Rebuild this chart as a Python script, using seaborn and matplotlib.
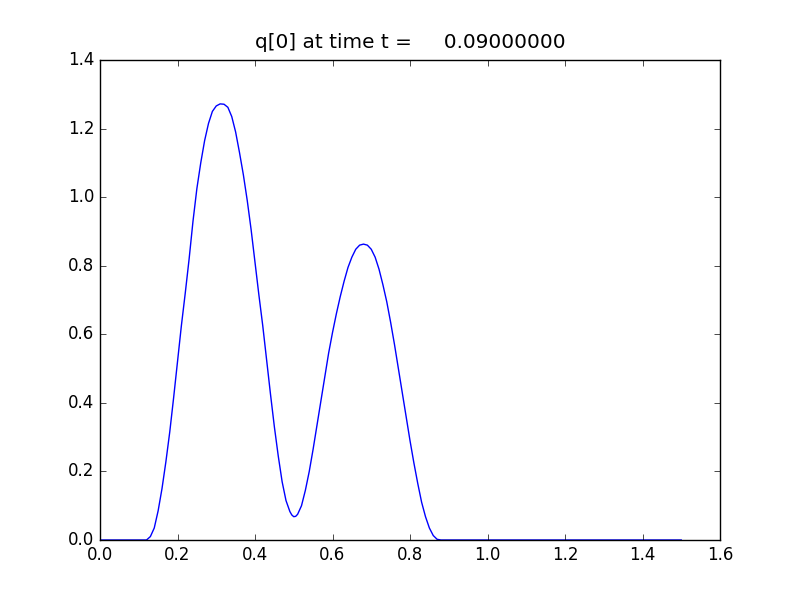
import matplotlib
matplotlib.use('Agg')
import matplotlib.pyplot as plt
import seaborn as sns

x_vals = [0.0, 0.12, 0.13, 0.14, 0.15, 0.16, 0.17, 0.18, 0.19, 0.20,
          0.21, 0.22, 0.23, 0.24, 0.25, 0.26, 0.27, 0.28, 0.29, 0.30,
          0.31, 0.32, 0.33, 0.34, 0.35, 0.36, 0.37, 0.38, 0.39, 0.40,
          0.41, 0.42, 0.43, 0.44, 0.45, 0.46, 0.47, 0.48, 0.49, 0.495, 0.50,
          0.505, 0.51, 0.52, 0.53, 0.54, 0.55, 0.56, 0.57, 0.58, 0.59, 0.60,
          0.61, 0.62, 0.63, 0.64, 0.65, 0.66, 0.67, 0.68, 0.69, 0.70,
          0.71, 0.72, 0.73, 0.74, 0.75, 0.76, 0.77, 0.78, 0.79, 0.80,
          0.81, 0.82, 0.83, 0.84, 0.85, 0.86, 0.87, 0.88, 1.5]
q_vals = [0.0, 0.0, 0.01, 0.035, 0.085, 0.15, 0.228, 0.315, 0.415, 0.52,
          0.625, 0.72, 0.82, 0.93, 1.025, 1.10, 1.165, 1.215, 1.25, 1.266,
          1.272, 1.271, 1.262, 1.235, 1.19, 1.13, 1.065, 0.99, 0.905, 0.81,
          0.715, 0.625, 0.525, 0.425, 0.33, 0.245, 0.17, 0.115, 0.083, 0.073, 0.068,
          0.069, 0.075, 0.10, 0.145, 0.20, 0.265, 0.335, 0.405, 0.475, 0.545, 0.605,
          0.66, 0.71, 0.755, 0.795, 0.825, 0.848, 0.86, 0.863, 0.86, 0.848,
          0.825, 0.79, 0.745, 0.695, 0.635, 0.57, 0.50, 0.43, 0.36, 0.29,
          0.225, 0.165, 0.11, 0.068, 0.035, 0.013, 0.002, 0.0, 0.0]
t = 0.09

plt.style.use('classic')
plt.rcParams['figure.facecolor'] = 'white'
plt.rcParams['savefig.facecolor'] = 'white'

fig = plt.figure(figsize=(8, 6), dpi=100)
ax = fig.add_subplot(111)
sns.lineplot(x=x_vals, y=q_vals, color='b', linewidth=1, estimator=None, sort=False, ax=ax)
ax.set_xlim(0, 1.6)
ax.set_ylim(0, 1.4)
ax.set_title('q[0] at time t = %14.8f' % t, pad=9)
plt.savefig('out.png', dpi=100)
